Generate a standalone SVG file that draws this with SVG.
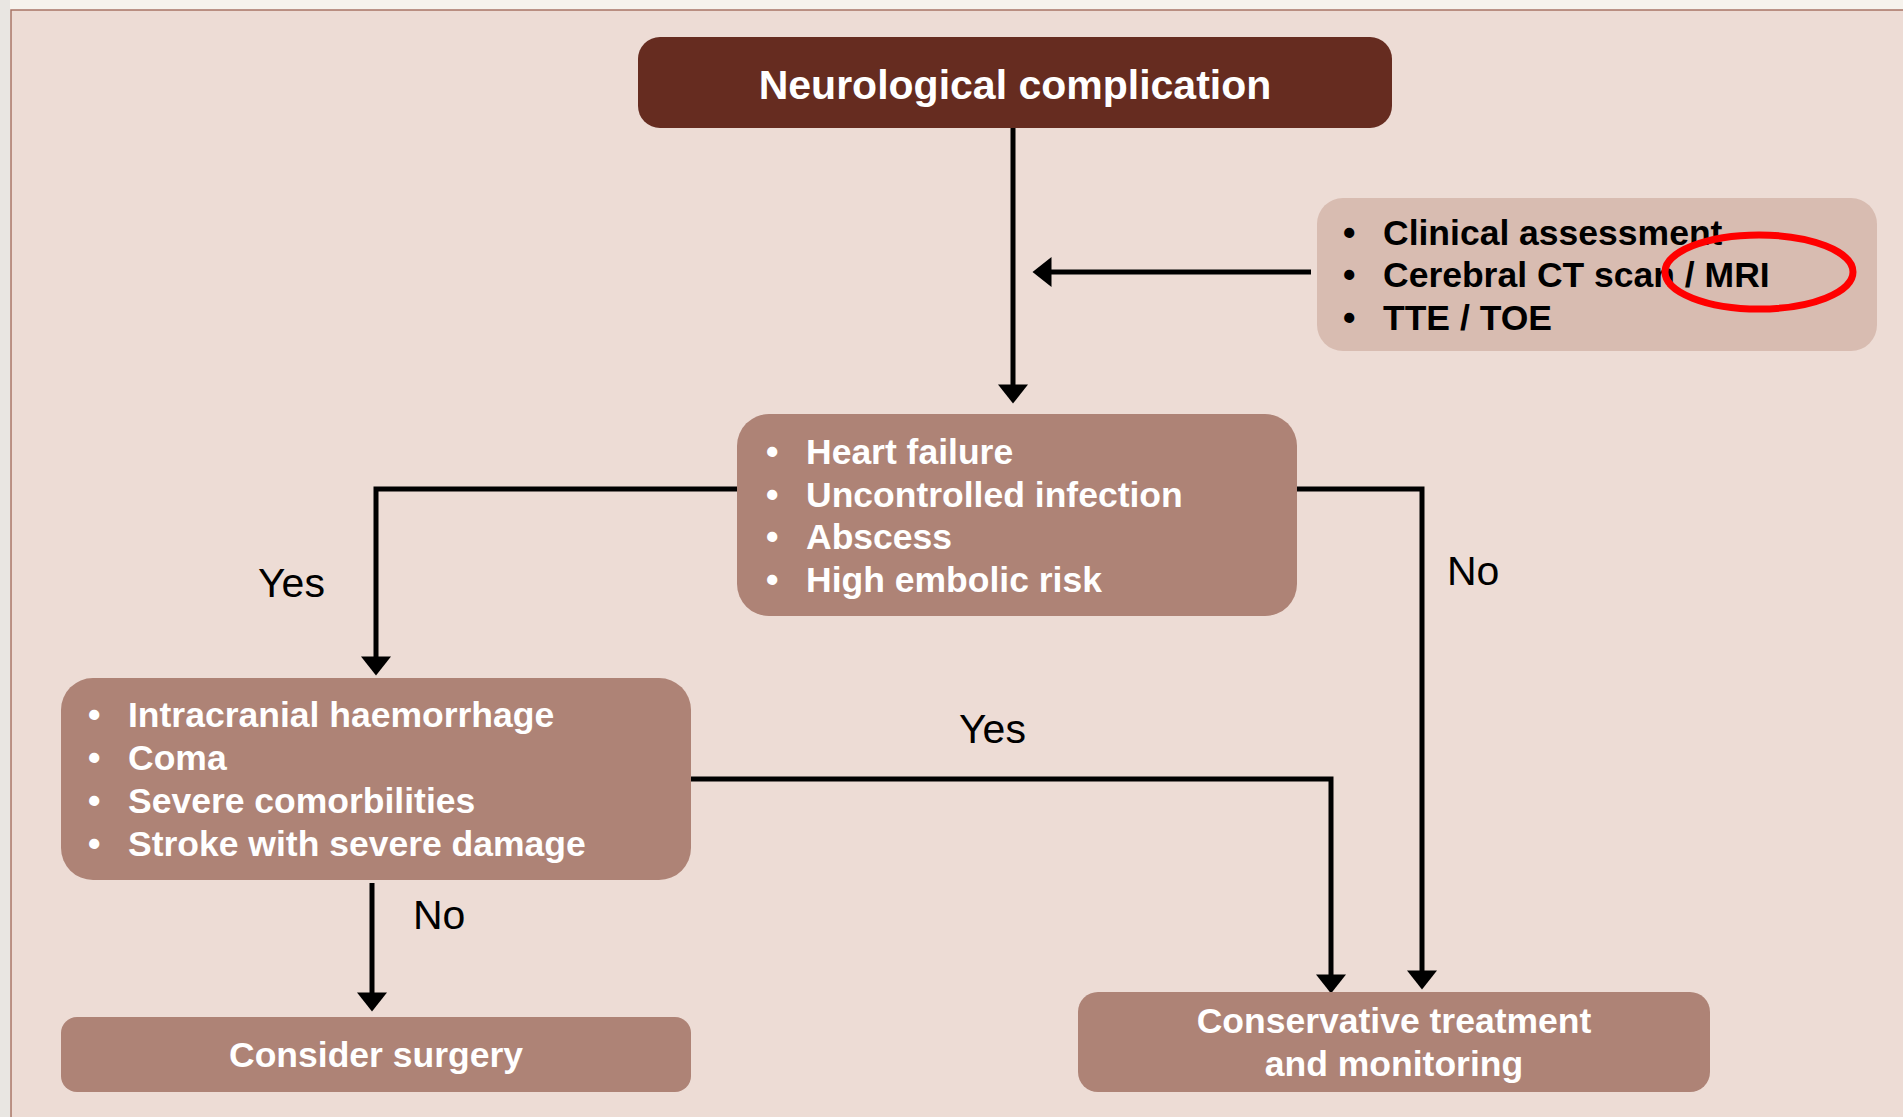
<svg xmlns="http://www.w3.org/2000/svg" width="1903" height="1117" viewBox="0 0 1903 1117">
<style>
.box{fill:#ae8376}
.w{font-family:"Liberation Sans",Arial,sans-serif;font-weight:bold;fill:#ffffff;font-size:35.5px}
.k{font-family:"Liberation Sans",Arial,sans-serif;font-weight:bold;fill:#000000;font-size:35.5px}
.lbl{font-family:"Liberation Sans",Arial,sans-serif;fill:#000000;font-size:41px}
.c{fill:none;stroke:#000000;stroke-width:5}
</style>
<defs>
<marker id="ah" viewBox="0 0 19 30" refX="0.5" refY="15" markerUnits="userSpaceOnUse" markerWidth="19" markerHeight="30" orient="auto" overflow="visible">
<path d="M0,0 L19,15 L0,30 Z" fill="#000000"/>
</marker>
</defs>
<rect x="0" y="0" width="1903" height="1117" fill="#f6f2ec"/>
<rect x="0" y="0" width="10" height="1117" fill="#e9e6e2"/>
<rect x="11" y="10" width="1900" height="1120" fill="#eddcd5" stroke="#a87466" stroke-width="1.5"/>

<g id="connectors">
<path class="c" d="M1013,128 V385" marker-end="url(#ah)"/>
<path class="c" d="M1311,272 H1051" marker-end="url(#ah)"/>
<path class="c" d="M737,489 H376 V657" marker-end="url(#ah)"/>
<path class="c" d="M1297,489 H1422 V971" marker-end="url(#ah)"/>
<path class="c" d="M691,779 H1331 V975" marker-end="url(#ah)"/>
<path class="c" d="M372,883 V993" marker-end="url(#ah)"/>
<text class="lbl" x="258" y="597">Yes</text>
<text class="lbl" x="1447" y="585">No</text>
<text class="lbl" x="959" y="743">Yes</text>
<text class="lbl" x="413" y="929">No</text>
</g>

<g id="node-top">
<rect x="638" y="37" width="754" height="91" rx="22" fill="#662c20"/>
<text x="1015" y="99" text-anchor="middle" style="font-family:'Liberation Sans',Arial,sans-serif;font-weight:bold;fill:#ffffff;font-size:41px">Neurological complication</text>
</g>

<g id="node-assessment">
<rect x="1317" y="198" width="560" height="153" rx="26" fill="#d8bcb1"/>
<text class="k" x="1343" y="245">•</text>
<text class="k" x="1383" y="245">Clinical assessment</text>
<text class="k" x="1343" y="287">•</text>
<text class="k" x="1383" y="287">Cerebral CT scan / MRI</text>
<text class="k" x="1343" y="330">•</text>
<text class="k" x="1383" y="330">TTE / TOE</text>
<ellipse cx="1759" cy="272" rx="94" ry="37" fill="none" stroke="#ff0000" stroke-width="7"/>
</g>

<g id="node-criteria">
<rect class="box" x="737" y="414" width="560" height="202" rx="32"/>
<text class="w" x="766" y="464">•</text>
<text class="w" x="806" y="464">Heart failure</text>
<text class="w" x="766" y="507">•</text>
<text class="w" x="806" y="507">Uncontrolled infection</text>
<text class="w" x="766" y="549">•</text>
<text class="w" x="806" y="549">Abscess</text>
<text class="w" x="766" y="592">•</text>
<text class="w" x="806" y="592">High embolic risk</text>
</g>

<g id="node-contra">
<rect class="box" x="61" y="678" width="630" height="202" rx="32"/>
<text class="w" x="88" y="727">•</text>
<text class="w" x="128" y="727">Intracranial haemorrhage</text>
<text class="w" x="88" y="770">•</text>
<text class="w" x="128" y="770">Coma</text>
<text class="w" x="88" y="813">•</text>
<text class="w" x="128" y="813">Severe comorbilities</text>
<text class="w" x="88" y="856">•</text>
<text class="w" x="128" y="856">Stroke with severe damage</text>
</g>

<g id="node-surgery">
<rect class="box" x="61" y="1017" width="630" height="75" rx="16"/>
<text class="w" x="376" y="1067" text-anchor="middle">Consider surgery</text>
</g>

<g id="node-conservative">
<rect class="box" x="1078" y="992" width="632" height="100" rx="20"/>
<text class="w" x="1394" y="1033" text-anchor="middle">Conservative treatment</text>
<text class="w" x="1394" y="1076" text-anchor="middle">and monitoring</text>
</g>
</svg>
